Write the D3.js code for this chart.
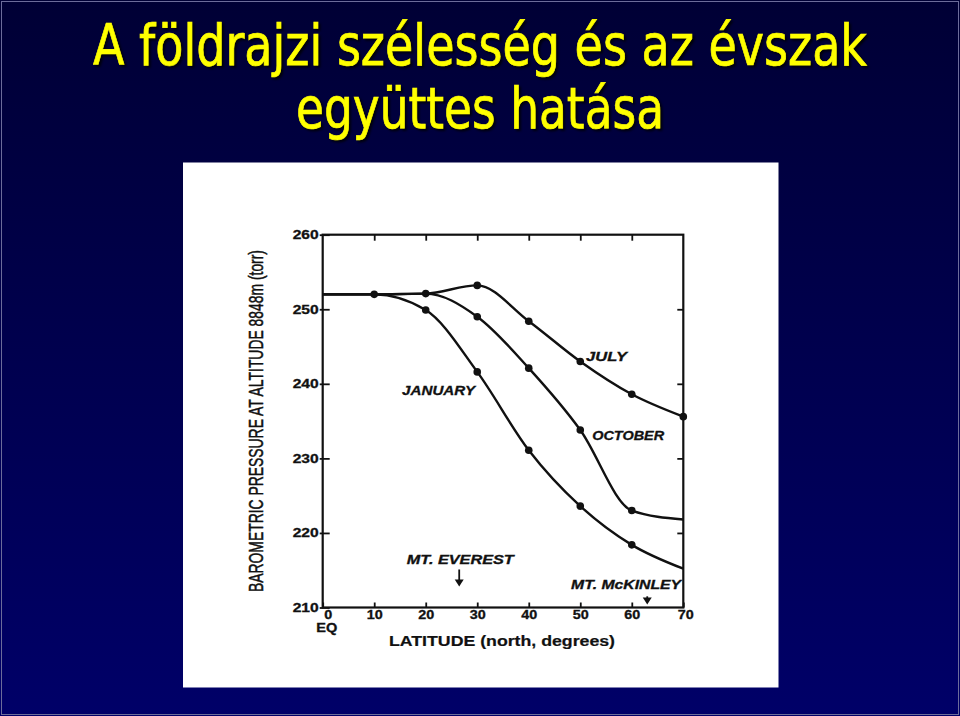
<!DOCTYPE html>
<html>
<head>
<meta charset="utf-8">
<script src="https://cdn.jsdelivr.net/npm/d3@7"></script>
<style>
  body { margin: 0; background: #000044; }
  svg { display: block; }
</style>
</head>
<body>
<div id="chart"></div>
<script>
// Data
const latitudes = [0, 10, 20, 30, 40, 50, 60, 70];
const january = [252, 252, 249.9, 241.6, 231.1, 223.6, 218.4, 215.2];
const october = [252, 252, 252.1, 249.0, 242.1, 233.8, 223.0, 221.8];
const july    = [252, 252, 252.1, 253.2, 248.4, 243.0, 238.6, 235.6];

// which latitudes carry a dot, per series
const januaryDots = [10, 20, 30, 40, 50, 60];
const octoberDots = [20, 30, 40, 50, 60];
const julyDots    = [30, 40, 50, 60, 70];

const xTicks = [0, 10, 20, 30, 40, 50, 60, 70];
const yTicks = [210, 220, 230, 240, 250, 260];

const titleLines = ["A földrajzi szélesség és az évszak", "együttes hatása"];

// curve labels: [text, latitude, pressure]
const curveLabels = [
  ["JANUARY", 22.5, 238.5],
  ["JULY", 55.1, 243.1],
  ["OCTOBER", 59.3, 232.5]
];

// mountain markers: [text, label lat, label pressure, arrow lat, arrow top, arrow bottom]
const mountains = [
  ["MT. EVEREST", 26.7, 215.8, 26.5, 215.1, 212.8],
  ["MT. McKINLEY", 58.9, 212.5, 63.0, 211.5, 210.4]
];

const W = 960, H = 716;

const svg = d3.select("#chart").append("svg")
  .attr("width", W).attr("height", H);

// slide background
const defs = svg.append("defs");
const grad = defs.append("linearGradient").attr("id", "bg")
  .attr("x1", 0).attr("y1", 0).attr("x2", 0).attr("y2", 1);
grad.append("stop").attr("offset", "0%").attr("stop-color", "#000035");
grad.append("stop").attr("offset", "100%").attr("stop-color", "#000068");

svg.append("rect").attr("width", W).attr("height", H).attr("fill", "url(#bg)");
svg.append("rect").attr("x", 1.5).attr("y", 1.5).attr("width", W - 3).attr("height", H - 3)
  .attr("fill", "none").attr("stroke", "#6c6c9a").attr("stroke-width", 1);

// title
const titleY = [65, 128];
const titleW = [774, 368];
svg.append("g").selectAll("text")
  .data(titleLines)
  .enter().append("text")
  .attr("x", 480)
  .attr("y", (d, i) => titleY[i])
  .attr("text-anchor", "middle")
  .attr("textLength", (d, i) => titleW[i])
  .attr("lengthAdjust", "spacingAndGlyphs")
  .style("font-family", "'DejaVu Sans Condensed', 'DejaVu Sans', sans-serif")
  .style("font-stretch", "condensed")
  .style("font-size", "57px")
  .style("fill", "#ffff00")
  .style("stroke", "#ffff00")
  .style("stroke-width", "0.7px")
  .style("filter", "drop-shadow(2px 2px 1px rgba(0,0,0,0.8))")
  .text(d => d);

// white figure panel
svg.append("rect")
  .attr("x", 183).attr("y", 162.5).attr("width", 595.5).attr("height", 525)
  .attr("fill", "#ffffff");

// scales
const x = d3.scaleLinear().domain([0, 70]).range([322.7, 683.3]);
const y = d3.scaleLinear().domain([210, 260]).range([607.5, 234.7]);

const plot = svg.append("g");
const ink = "#111111";
const tickFont = "'Liberation Sans', Arial, sans-serif";

// axes
const left = plot.append("g")
  .attr("transform", `translate(${x(0)},0)`)
  .call(d3.axisLeft(y).tickValues(yTicks).tickSizeInner(-7).tickSizeOuter(0).tickPadding(3));
left.selectAll(".tick line").attr("x1", -3);

const bottom = plot.append("g")
  .attr("transform", `translate(0,${y(210)})`)
  .call(d3.axisBottom(x).tickValues(xTicks).tickSizeInner(-5).tickSizeOuter(0).tickPadding(3));

plot.append("g")
  .attr("transform", `translate(0,${y(260)})`)
  .call(d3.axisTop(x).tickValues(xTicks.slice(1, -1)).tickSizeInner(-6).tickSizeOuter(0).tickFormat(""));

plot.append("g")
  .attr("transform", `translate(${x(70)},0)`)
  .call(d3.axisRight(y).tickValues(yTicks.slice(1, -1)).tickSizeInner(-6).tickSizeOuter(0).tickFormat(""));

plot.selectAll(".domain").remove();
plot.selectAll(".tick line").attr("stroke", ink).attr("stroke-width", 1.8);
plot.selectAll(".tick text")
  .attr("lengthAdjust", "spacingAndGlyphs")
  .style("font-family", tickFont)
  .style("font-weight", "bold")
  .style("font-size", "12px")
  .style("fill", ink)
  .style("stroke", ink)
  .style("stroke-width", "0.3px");
left.selectAll(".tick text").attr("textLength", 26).attr("x", -4);
bottom.selectAll(".tick text").attr("textLength", d => d === 0 ? 8 : 16);
bottom.selectAll(".tick text").filter(d => d === 0)
  .attr("text-anchor", "start").attr("x", 1);
bottom.selectAll(".tick text").filter(d => d === 70)
  .attr("x", 2);

// frame
plot.append("rect")
  .attr("x", x(0)).attr("y", y(260))
  .attr("width", x(70) - x(0)).attr("height", y(210) - y(260))
  .attr("fill", "none").attr("stroke", ink).attr("stroke-width", 2.2);

// curves
const series = [
  {name: "january", values: january, dots: januaryDots},
  {name: "october", values: october, dots: octoberDots},
  {name: "july", values: july, dots: julyDots}
];

const line = d3.line()
  .x(d => x(d[0]))
  .y(d => y(d[1]))
  .curve(d3.curveMonotoneX);

series.forEach(s => {
  const pts = latitudes.map((lat, i) => [lat, s.values[i]]);
  plot.append("path")
    .attr("d", line(pts))
    .attr("fill", "none")
    .attr("stroke", ink)
    .attr("stroke-width", 2.4);

  plot.append("g").selectAll("circle")
    .data(pts.filter(p => s.dots.includes(p[0])))
    .enter().append("circle")
    .attr("cx", d => x(d[0]))
    .attr("cy", d => y(d[1]))
    .attr("r", 3.8)
    .attr("fill", ink);
});

// curve labels
const labelW = {"JANUARY": 73, "JULY": 41, "OCTOBER": 72};
plot.append("g").selectAll("text")
  .data(curveLabels)
  .enter().append("text")
  .attr("x", d => x(d[1]))
  .attr("y", d => y(d[2]))
  .attr("text-anchor", "middle")
  .attr("textLength", d => labelW[d[0]])
  .attr("lengthAdjust", "spacingAndGlyphs")
  .style("font-family", tickFont)
  .style("font-weight", "bold")
  .style("font-style", "italic")
  .style("font-size", "12px")
  .style("fill", ink)
  .style("stroke", ink)
  .style("stroke-width", "0.3px")
  .text(d => d[0]);

// mountain markers
const mtW = {"MT. EVEREST": 107, "MT. McKINLEY": 110};
const mt = plot.append("g").selectAll("g")
  .data(mountains)
  .enter().append("g");

mt.append("text")
  .attr("x", d => x(d[1]))
  .attr("y", d => y(d[2]))
  .attr("text-anchor", "middle")
  .attr("textLength", d => mtW[d[0]])
  .attr("lengthAdjust", "spacingAndGlyphs")
  .style("font-family", tickFont)
  .style("font-weight", "bold")
  .style("font-style", "italic")
  .style("font-size", "12px")
  .style("fill", ink)
  .style("stroke", ink)
  .style("stroke-width", "0.3px")
  .text(d => d[0]);

mt.append("line")
  .attr("x1", d => x(d[3])).attr("x2", d => x(d[3]))
  .attr("y1", d => y(d[4])).attr("y2", d => y(d[5]) - 3)
  .attr("stroke", ink).attr("stroke-width", 1.8);

mt.append("path")
  .attr("d", d => {
    const ax = x(d[3]), ay = y(d[5]);
    return `M${ax - 4.5},${ay - 7}L${ax},${ay}L${ax + 4.5},${ay - 7}Z`;
  })
  .attr("fill", ink);

// axis titles
plot.append("text")
  .attr("transform", `translate(263,421) rotate(-90)`)
  .attr("text-anchor", "middle")
  .attr("textLength", 342)
  .attr("lengthAdjust", "spacingAndGlyphs")
  .style("font-family", tickFont)
  .style("font-size", "20px")
  .style("fill", ink)
  .style("stroke", ink)
  .style("stroke-width", "0.5px")
  .text("BAROMETRIC PRESSURE AT ALTITUDE 8848m (torr)");

plot.append("text")
  .attr("x", 502)
  .attr("y", 645.5)
  .attr("text-anchor", "middle")
  .attr("textLength", 226)
  .attr("lengthAdjust", "spacingAndGlyphs")
  .style("font-family", tickFont)
  .style("font-weight", "bold")
  .style("font-size", "14px")
  .style("fill", ink)
  .style("stroke", ink)
  .style("stroke-width", "0.2px")
  .text("LATITUDE (north, degrees)");

plot.append("text")
  .attr("x", 326.7)
  .attr("y", 631.7)
  .attr("text-anchor", "middle")
  .attr("textLength", 21)
  .attr("lengthAdjust", "spacingAndGlyphs")
  .style("font-family", tickFont)
  .style("font-weight", "bold")
  .style("font-size", "12px")
  .style("fill", ink)
  .style("stroke", ink)
  .style("stroke-width", "0.3px")
  .text("EQ");
</script>
</body>
</html>
